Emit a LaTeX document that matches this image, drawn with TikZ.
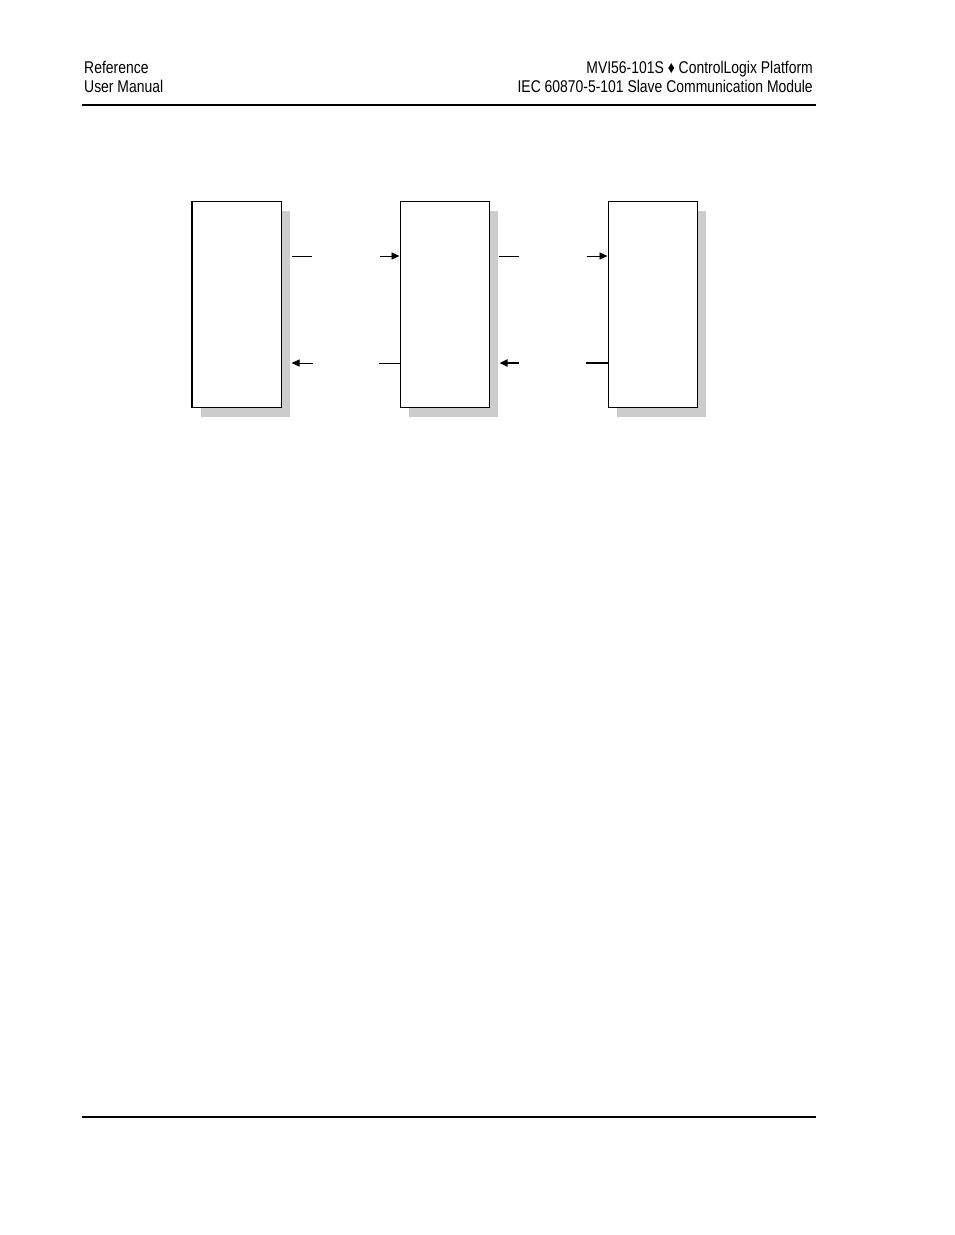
\documentclass[tikz,border=0pt]{standalone}
\usepackage{fontspec}
\setmainfont{Liberation Sans}[FakeStretch=0.82]
\usetikzlibrary{arrows.meta, positioning, shadows}

\tikzset{
    modbox/.style = {draw, line width=1pt, fill=white,
        minimum width=89pt, minimum height=206pt, inner sep=0pt,
        drop shadow={shadow xshift=9pt, shadow yshift=-9pt,
            fill=black!20, opacity=1}},
    hdr/.style = {font=\fontsize{17}{19}\selectfont, inner sep=0pt},
    wire/.style = {line width=0.9pt},
    heavy/.style = {line width=2.8pt},
    tip/.style = {-{Triangle[length=8pt, width=7pt]}}
}

\begin{document}
\begin{tikzpicture} [x=1pt, y=-1pt,
            node distance = 208pt,
            on grid]

            \useasboundingbox (0,0) rectangle (954,1235);

            % Page header
            \node (ref) [hdr, anchor=base west] at (84,73) {Reference};
            \node (man) [hdr, anchor=base west] at (84,92) {User Manual};
            \node (plat) [hdr, anchor=base east] at (813,73)
                {MVI56-101S ♦ ControlLogix Platform};
            \node (mod) [hdr, anchor=base east] at (813,92)
                {IEC 60870-5-101 Slave Communication Module};
            \draw [line width=1.2pt] (82,105) -- (816,105);
            \draw [line width=1.2pt] (82,1117) -- (816,1117);

            % Box 1
            \node (box1) [modbox] at (236.5,304.5) {};

            % Box 2
            \node (box2) [modbox, right = of box1] {};

            % Box 3
            \node (box3) [modbox, right = of box2] {};

            \draw [line width=2pt] (box1.north west) -- (box1.south west);

            % Connector ends
            \coordinate (t1a) at ([shift={(10pt,-55pt)}]box1.north east);
            \coordinate (t1b) at ([shift={(30pt,-55pt)}]box1.north east);
            \coordinate (t1c) at ([shift={(-20pt,-55pt)}]box2.north west);
            \coordinate (t1d) at ([shift={(0pt,-55pt)}]box2.north west);
            \coordinate (r1a) at ([shift={(10pt,-162pt)}]box1.north east);
            \coordinate (r1b) at ([shift={(31pt,-162pt)}]box1.north east);
            \coordinate (r1c) at ([shift={(-21pt,-162pt)}]box2.north west);
            \coordinate (r1d) at ([shift={(0pt,-162pt)}]box2.north west);

            \coordinate (t2a) at ([shift={(9pt,-55pt)}]box2.north east);
            \coordinate (t2b) at ([shift={(29pt,-55pt)}]box2.north east);
            \coordinate (t2c) at ([shift={(-21pt,-55pt)}]box3.north west);
            \coordinate (t2d) at ([shift={(0pt,-55pt)}]box3.north west);
            \coordinate (r2a) at ([shift={(10pt,-162pt)}]box2.north east);
            \coordinate (r2b) at ([shift={(29pt,-162pt)}]box2.north east);
            \coordinate (r2c) at ([shift={(-22pt,-162pt)}]box3.north west);
            \coordinate (r2d) at ([shift={(0pt,-162pt)}]box3.north west);

            % Arrows
            \draw [wire] (t1a) -- (t1b);
            \draw [wire, tip] (t1c) -- (t1d);
            \draw [wire, tip] (r1b) -- (r1a);
            \draw [wire] (r1c) -- (r1d);

            \draw [wire] (t2a) -- (t2b);
            \draw [wire, tip] (t2c) -- (t2d);
            \draw [heavy, tip] (r2b) -- (r2a);
            \draw [heavy] (r2c) -- (r2d);
\end{tikzpicture}
\end{document}
